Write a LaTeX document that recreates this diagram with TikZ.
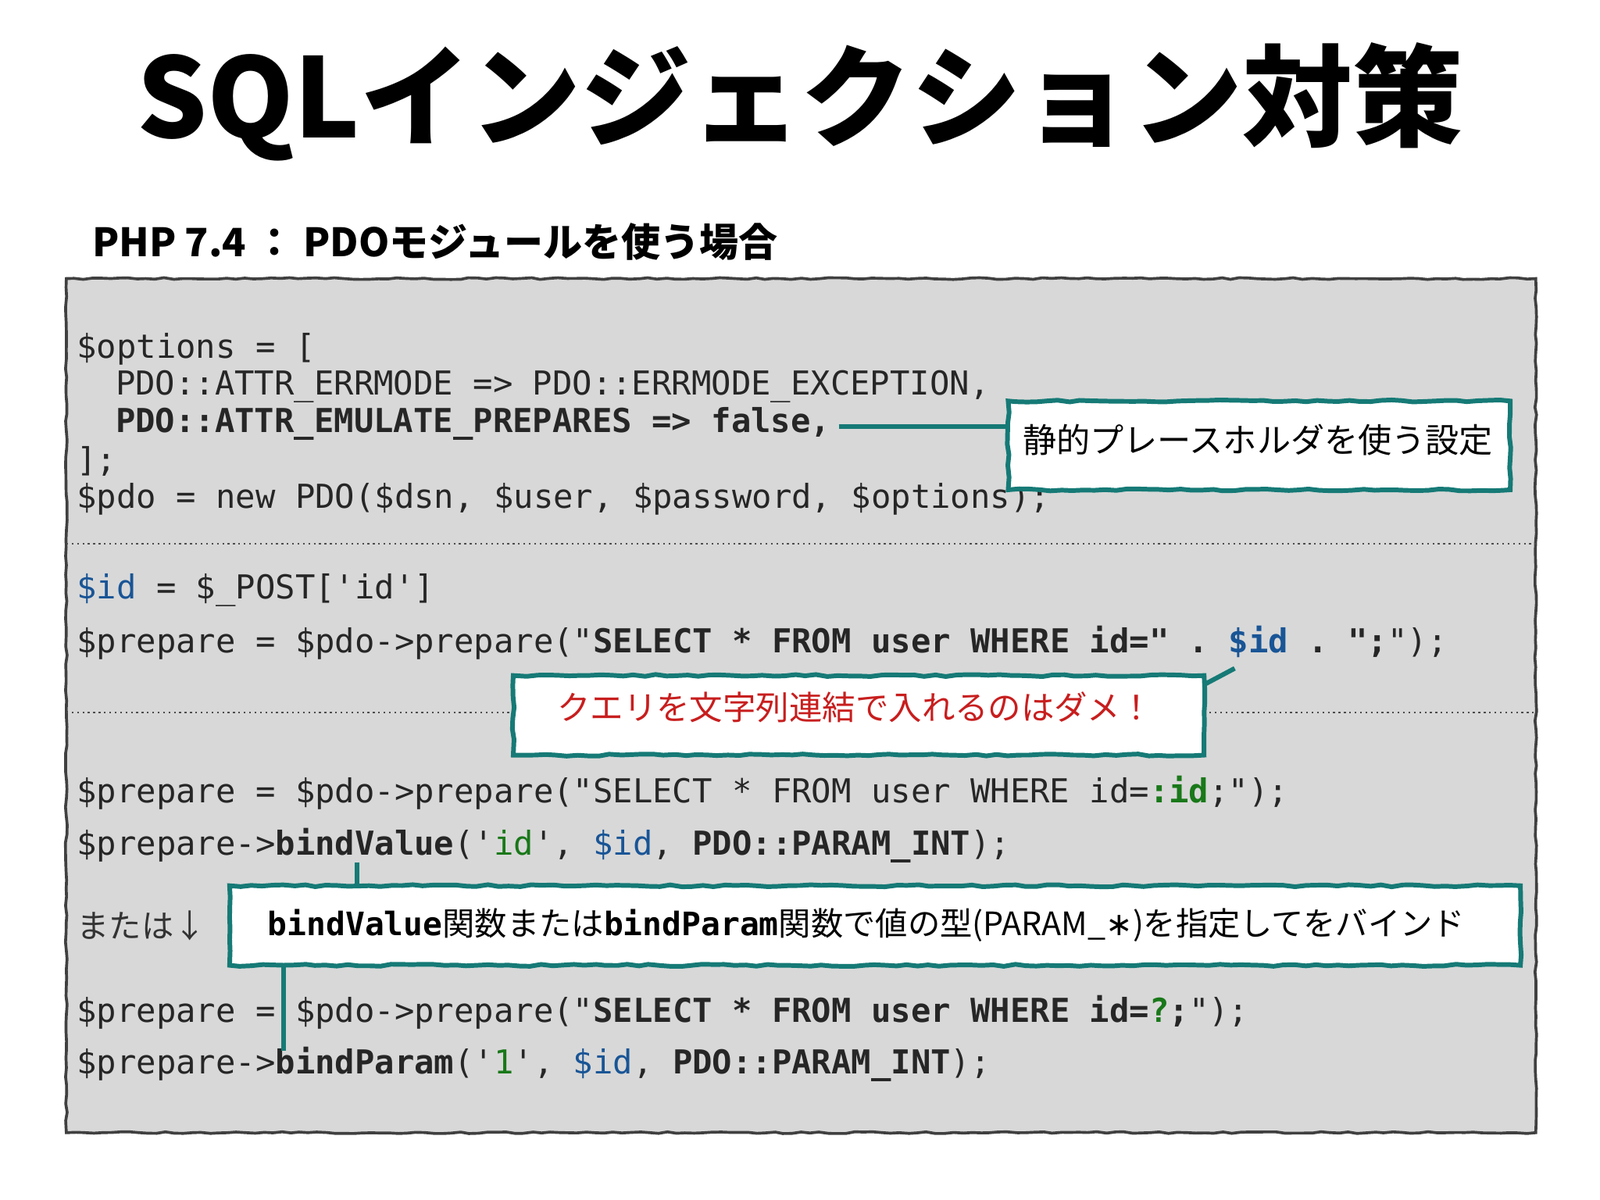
\documentclass[tikz,border=0pt]{standalone}
\usepackage{fontspec}
\setmonofont{DejaVu Sans Mono}
\newfontfamily\cjk{Noto Sans CJK JP}
\newfontfamily\dvs{DejaVu Sans}
\usetikzlibrary{decorations.pathmorphing}
\definecolor{teal2}{RGB}{22,122,118}
\definecolor{boxbg}{RGB}{216,216,216}
\definecolor{idblue}{RGB}{25,85,150}
\definecolor{idgreen}{RGB}{25,120,25}
\definecolor{ngred}{RGB}{200,30,30}
\tikzset{
 code/.style={anchor=west,inner sep=0pt,font=\fontsize{18.4}{18.4}\ttfamily,text=black!85},
 callout/.style={draw=teal2,line width=2.6pt,fill=white,inner sep=0pt,decorate,decoration={random steps,segment length=6pt,amplitude=0.6pt}},
 link/.style={draw=teal2,line width=2.6pt},
 sep/.style={black!70,line width=1pt,dotted},
}
\begin{document}
\begin{tikzpicture}[x=0.02cm,y=-0.02cm]
\useasboundingbox[fill=white] (0,0) rectangle (1568,1176);
\node[inner sep=0pt,font=\fontsize{61.5}{61.5}\cjk\bfseries] (title) at (784,100) {SQLインジェクション対策};
\node[anchor=west,inner sep=0pt,font=\fontsize{21.8}{21.8}\cjk\bfseries] (sub) at (90,237) {PHP 7.4 ： PDOモジュールを使う場合};
\draw[fill=boxbg,draw=black!75,line width=1.6pt,decorate,decoration={random steps,segment length=5pt,amplitude=0.5pt}] (65,273) rectangle (1505,1110);
\draw[sep] (65,533) -- (1505,533);
\draw[sep] (65,698) -- (503,698);
\draw[sep] (1180,698) -- (1505,698);
% block 1
\node[code] (l1) at (75,342) {\$options = [};
\node[code] (l2) at (113,379) {PDO::ATTR\_ERRMODE => PDO::ERRMODE\_EXCEPTION,};
\node[code] (l3) at (113,415) {\bfseries PDO::ATTR\_EMULATE\_PREPARES => false,};
\node[code] (l4) at (75,452) {];};
\node[code] (l5) at (75,489) {\$pdo = new PDO(\$dsn, \$user, \$password, \$options);};
% block 2
\node[code] (m1) at (75,578) {\textcolor{idblue}{\$id} = \$\_POST['id']};
\node[code] (m2) at (75,630) {\$prepare = \$pdo->prepare("\textbf{SELECT * FROM user WHERE id=" . \textcolor{idblue}{\$id} . ";}");};
% block 3
\node[code] (n1) at (75,777) {\$prepare = \$pdo->prepare("SELECT * FROM user WHERE id=\textcolor{idgreen}{\bfseries :id};");};
\node[code] (n2) at (75,829) {\$prepare->\textbf{bindValue}('\textcolor{idgreen}{id}', \textcolor{idblue}{\$id}, \textbf{PDO::PARAM\_INT});};
\node[anchor=west,inner sep=0pt,font=\fontsize{18}{18}\cjk,text=black!80] (or) at (75,907) {または↓};
\node[code] (p1) at (75,992) {\$prepare = \$pdo->prepare("\textbf{SELECT * FROM user WHERE id=\textcolor{idgreen}{?};}");};
\node[code] (p2) at (75,1043) {\$prepare->\textbf{bindParam}('\textcolor{idgreen}{1}', \textcolor{idblue}{\$id}, \textbf{PDO::PARAM\_INT});};
% callouts
\coordinate (c1a) at (822,418);
\draw[link] (c1a) -- (988,418);
\draw[callout] (988,393) rectangle (1480,480);
\node[anchor=west,inner sep=0pt,font=\fontsize{18.8}{18.8}\cjk] (t1) at (1002,431) {静的プレースホルダを使う設定};
\coordinate (c2a) at (1210,655);
\draw[link] (1178,672) -- (c2a);
\draw[callout] (503,662) rectangle (1180,740);
\node[inner sep=0pt,font=\fontsize{18.5}{18.5}\cjk,text=ngred] (t2) at (838,693) {クエリを文字列連結で入れるのはダメ！};
\coordinate (c3a) at (350,845);
\coordinate (c3b) at (278,1030);
\draw[link] (c3a) -- (350,868);
\draw[link] (278,946) -- (c3b);
\draw[callout] (225,868) rectangle (1490,946);
\node[anchor=west,inner sep=0pt,font=\fontsize{18}{18}\cjk] (t3) at (262,907) {{\ttfamily\bfseries bindValue}関数または{\ttfamily\bfseries bindParam}関数で値の型(PARAM\_{\dvs ∗})を指定してをバインド};
\end{tikzpicture}
\end{document}
